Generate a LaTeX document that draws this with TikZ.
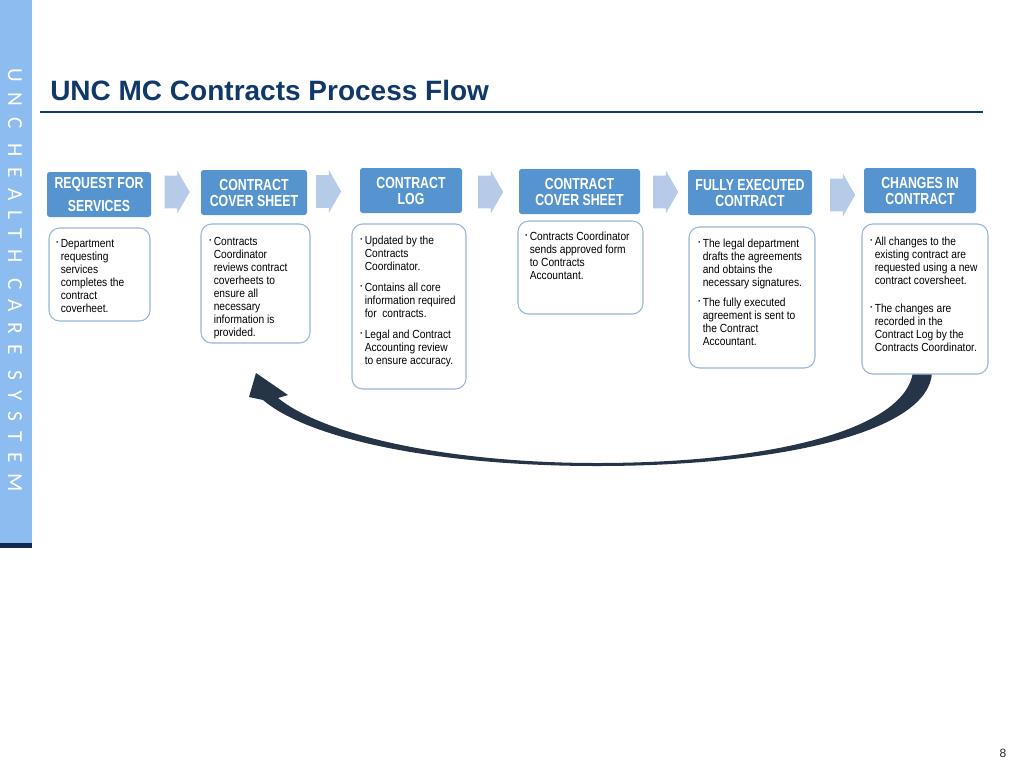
\documentclass[tikz,border=0pt]{standalone}
\usepackage{fontspec}
\setmainfont{Liberation Sans}
\newfontfamily\narrowfont{Liberation Sans}[FakeStretch=0.87]
\newfontfamily\headfont{Liberation Sans}[FakeStretch=0.77]
\newfontfamily\barfont{Carlito}[LetterSpace=49]
\usepackage{tikz}
\usetikzlibrary{arrows.meta}
\usetikzlibrary{shapes.arrows}
\usepackage{xcolor}
\definecolor{titleblue}{RGB}{16,56,104}
\definecolor{headblue}{RGB}{86,148,208}
\definecolor{lineblue}{RGB}{150,182,218}
\definecolor{chevblue}{RGB}{182,203,232}
\definecolor{barblue}{RGB}{141,188,240}
\definecolor{barnavy}{RGB}{18,40,82}
\definecolor{slate}{RGB}{37,52,70}
\newcommand{\bul}{\makebox[3.4pt][l]{\raisebox{1.8pt}{\fontsize{4.8}{4.8}\selectfont\textbullet}}}
\newenvironment{bullets}{\begin{tabular}{@{}l@{}l@{}}}{\end{tabular}}

\begin{document}
\begin{tikzpicture}[x=0.75pt,y=-0.75pt]
\tikzstyle{headbox}=[fill=headblue, rounded corners=2pt, text=white, align=center, minimum height=33.75pt, inner sep=0pt, font=\headfont\bfseries\fontsize{12}{12}\selectfont]
\tikzstyle{bodybox}=[draw=lineblue, line width=0.8pt, fill=white, rounded corners=8pt, inner sep=0pt]
\tikzstyle{bodytext}=[anchor=north west, inner sep=0pt, font=\narrowfont\fontsize{8.8}{9.75}\selectfont]
\tikzstyle{chevron}=[single arrow, fill=chevblue, single arrow tip angle=120, single arrow head extend=3.75pt, minimum height=18.75pt, inner xsep=0pt, inner ysep=12pt]
\useasboundingbox (0,0) rectangle (1024,768);

% side bar
\fill[barblue] (0,0) rectangle (32,545);
\fill[barnavy] (0,543) rectangle (32,548);
\node[rotate=-90, text=white, font=\barfont\fontsize{16}{16}\selectfont] (brand) at (15,280) {UNC HEALTH CARE SYSTEM};

% title
\node[anchor=base west, inner sep=0pt, text=titleblue, font=\bfseries\fontsize{21}{21}\selectfont] (title) at (50,100) {UNC MC Contracts Process Flow};
\draw[titleblue, line width=1.5pt] (40,112) -- (983,112);

% return arrow
\fill[slate] (932,372) .. controls (930,432) and (780,466) .. (597,466)
  .. controls (440,466) and (310,440) .. (263,400) -- (249,397) -- (256,373)
  -- (288,395) -- (278,398) .. controls (325,436) and (450,463) .. (597,463)
  .. controls (770,463) and (905,430) .. (913,372) -- cycle;

% steps
\node[headbox, minimum width=78pt] (h1) at (99,194.5) {REQUEST FOR\\[5pt]SERVICES};
\node[headbox, minimum width=79.5pt] (h2) at (254,192.5) {CONTRACT\\COVER SHEET};
\node[headbox, minimum width=76.5pt] (h3) at (411,190.5) {CONTRACT\\LOG};
\node[headbox, minimum width=90.75pt] (h4) at (579.5,191.5) {CONTRACT\\COVER SHEET};
\node[headbox, minimum width=93pt] (h5) at (750,192.5) {FULLY EXECUTED\\CONTRACT};
\node[headbox, minimum width=84pt] (h6) at (920,190.5) {CHANGES IN\\CONTRACT};

\node[chevron] (a1) at (172.5,192) {};
\node[chevron] (a2) at (324,191.5) {};
\node[chevron] (a3) at (486,192) {};
\node[chevron] (a4) at (661,192) {};
\node[chevron] (a5) at (838,195) {};

\node[bodybox, minimum width=75.75pt, minimum height=69.75pt] (b1) at (99.5,274.5) {};
\node[bodybox, minimum width=81.75pt, minimum height=89.25pt] (b2) at (255.5,283.5) {};
\node[bodybox, minimum width=85.5pt, minimum height=123.75pt] (b3) at (409,306.5) {};
\node[bodybox, minimum width=93.75pt, minimum height=69.75pt] (b4) at (580.5,267.5) {};
\node[bodybox, minimum width=94.5pt, minimum height=105.75pt] (b5) at (752,297.5) {};
\node[bodybox, minimum width=94.5pt, minimum height=112.5pt] (b6) at (925,299) {};

\node[bodytext] (t1) at (56,238) {\begin{bullets}
\bul&Department\\&requesting\\&services\\&completes the\\&contract\\&coverheet.
\end{bullets}};
\node[bodytext] (t2) at (209,236) {\begin{bullets}
\bul&Contracts\\&Coordinator\\&reviews contract\\&coverheets to\\&ensure all\\&necessary\\&information is\\&provided.
\end{bullets}};
\node[bodytext] (t3) at (360,235) {\begin{bullets}
\bul&Updated by the\\&Contracts\\&Coordinator.\\[6pt]
\bul&Contains all core\\&information required\\&for~ contracts.\\[6pt]
\bul&Legal and Contract\\&Accounting review\\&to ensure accuracy.
\end{bullets}};
\node[bodytext] (t4) at (525,231) {\begin{bullets}
\bul&Contracts Coordinator\\&sends approved form\\&to Contracts\\&Accountant.
\end{bullets}};
\node[bodytext] (t5) at (698,238) {\begin{bullets}
\bul&The legal department\\&drafts the agreements\\&and obtains the\\&necessary signatures.\\[5pt]
\bul&The fully executed\\&agreement is sent to\\&the Contract\\&Accountant.
\end{bullets}};
\node[bodytext] (t6) at (870,236) {\begin{bullets}
\bul&All changes to the\\&existing contract are\\&requested using a new\\&contract coversheet.\\[11pt]
\bul&The changes are\\&recorded in the\\&Contract Log by the\\&Contracts Coordinator.
\end{bullets}};

\node[font=\fontsize{9}{9}\selectfont, text=black!85] (pgnum) at (1003,753) {8};
\end{tikzpicture}
\end{document}
